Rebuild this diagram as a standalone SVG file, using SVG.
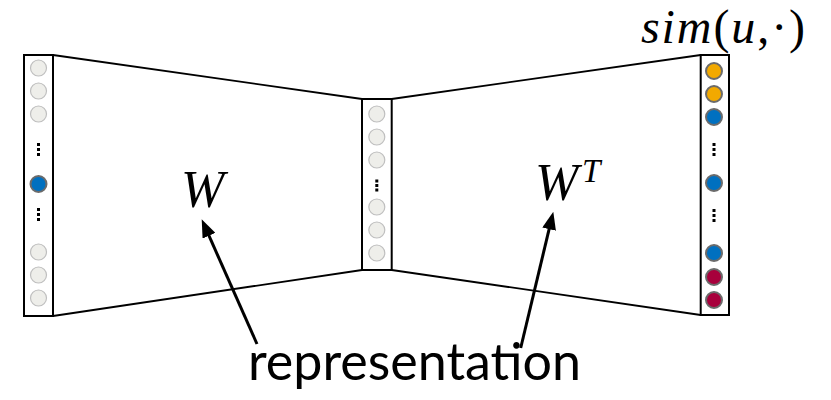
<svg xmlns="http://www.w3.org/2000/svg" width="831" height="400" viewBox="0 0 831 400">
  <style>
    .layer { fill: #ffffff; stroke: #000000; stroke-width: 2; }
    .off { fill: #EEEEEA; stroke: #BFBFBF; stroke-width: 1.2; }
    .on { stroke: #6B6B6B; stroke-width: 2; }
    .blue { fill: #0070C0; }
    .orange { fill: #F2A900; }
    .red { fill: #A8003C; }
    .dot { fill: #000000; }
    .edge { stroke: #000000; stroke-width: 1.8; fill: none; }
    .arrow { stroke: #000000; stroke-width: 3; fill: none; }
    .math { font-family: "Liberation Serif", "DejaVu Serif", serif; font-style: italic; fill: #000000; }
    .up { font-style: normal; }
    .label { font-family: Lato, "Liberation Sans", sans-serif; fill: #000000; }
  </style>
  <defs>
    <marker id="head" markerUnits="userSpaceOnUse" markerWidth="18" markerHeight="14" refX="8" refY="7" orient="auto">
      <path d="M0,0 L18,7 L0,14 z" fill="#000000"/>
    </marker>
  </defs>

  <g id="connectors">
    <line class="edge" x1="53" y1="55" x2="362" y2="99"/>
    <line class="edge" x1="53" y1="316" x2="362" y2="270"/>
    <line class="edge" x1="391.7" y1="99" x2="700.7" y2="55"/>
    <line class="edge" x1="391.7" y1="270" x2="700.7" y2="315"/>
    <line class="arrow" x1="257" y1="344" x2="205.75" y2="228.44" marker-end="url(#head)"/>
    <line class="arrow" x1="520.7" y1="348" x2="550.97" y2="221.43" marker-end="url(#head)"/>
  </g>

  <g id="input-layer">
    <rect class="layer" x="24" y="55" width="29" height="261"/>
    <circle class="off" cx="38.5" cy="68" r="8"/>
    <circle class="off" cx="38.5" cy="91" r="8"/>
    <circle class="off" cx="38.5" cy="114" r="8"/>
    <rect class="dot" x="37" y="143" width="3" height="3"/>
    <rect class="dot" x="37" y="148" width="3" height="3"/>
    <rect class="dot" x="37" y="153" width="3" height="3"/>
    <circle class="on blue" cx="38.5" cy="184" r="8"/>
    <rect class="dot" x="37" y="208" width="3" height="3"/>
    <rect class="dot" x="37" y="213" width="3" height="3"/>
    <rect class="dot" x="37" y="218" width="3" height="3"/>
    <circle class="off" cx="38.5" cy="252" r="8"/>
    <circle class="off" cx="38.5" cy="275" r="8"/>
    <circle class="off" cx="38.5" cy="298" r="8"/>
  </g>

  <g id="hidden-layer">
    <rect class="layer" x="362" y="99" width="29.7" height="171"/>
    <circle class="off" cx="376.8" cy="114" r="8"/>
    <circle class="off" cx="376.8" cy="137" r="8"/>
    <circle class="off" cx="376.8" cy="160" r="8"/>
    <rect class="dot" x="375.3" y="179.5" width="3" height="3"/>
    <rect class="dot" x="375.3" y="184" width="3" height="3"/>
    <rect class="dot" x="375.3" y="188.5" width="3" height="3"/>
    <circle class="off" cx="376.8" cy="207" r="8"/>
    <circle class="off" cx="376.8" cy="230" r="8"/>
    <circle class="off" cx="376.8" cy="253" r="8"/>
  </g>

  <g id="output-layer">
    <rect class="layer" x="700.7" y="55" width="28.3" height="260"/>
    <circle class="on orange" cx="714" cy="71" r="8"/>
    <circle class="on orange" cx="714" cy="94" r="8"/>
    <circle class="on blue" cx="714" cy="117" r="8"/>
    <rect class="dot" x="712.5" y="143" width="3" height="3"/>
    <rect class="dot" x="712.5" y="148" width="3" height="3"/>
    <rect class="dot" x="712.5" y="153" width="3" height="3"/>
    <circle class="on blue" cx="714" cy="183" r="8"/>
    <rect class="dot" x="712.5" y="209" width="3" height="3"/>
    <rect class="dot" x="712.5" y="214" width="3" height="3"/>
    <rect class="dot" x="712.5" y="219" width="3" height="3"/>
    <circle class="on blue" cx="714" cy="253" r="8"/>
    <circle class="on red" cx="714" cy="277" r="8"/>
    <circle class="on red" cx="714" cy="300" r="8"/>
  </g>

  <g id="label-W">
    <text class="math" x="181" y="207" font-size="52">W</text>
  </g>
  <g id="label-WT">
    <text class="math" x="535" y="200" font-size="52">W</text>
    <text class="math" x="582" y="182" font-size="33">T</text>
  </g>
  <g id="label-sim">
    <text class="math" x="641" y="43" font-size="48" textLength="164" lengthAdjust="spacing">sim<tspan class="up">(</tspan>u<tspan class="up">,·)</tspan></text>
  </g>
  <g id="label-representation">
    <text class="label" x="248" y="380" font-size="52">representation</text>
  </g>
</svg>
